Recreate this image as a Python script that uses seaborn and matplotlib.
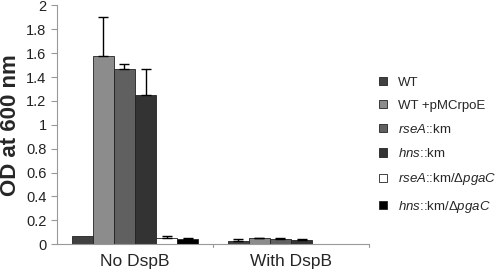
import numpy as np
import pandas as pd
import seaborn as sns
import matplotlib.pyplot as plt
from matplotlib.patches import Patch

conditions = ["No DspB", "With DspB"]
strains = ["WT", "WT +pMCrpoE", "rseA::km", "hns::km", "rseA::km/pgaC", "hns::km/pgaC"]
strain_labels = ["WT", "WT +pMCrpoE", r"$\mathit{rseA}$::km", r"$\mathit{hns}$::km",
                 r"$\mathit{rseA}$::km/Δ$\mathit{pgaC}$", r"$\mathit{hns}$::km/Δ$\mathit{pgaC}$"]
od_no = [0.07, 1.58, 1.47, 1.25, 0.05, 0.04]
err_no = [0.0, 0.32, 0.04, 0.22, 0.015, 0.01]
od_with = [0.03, 0.05, 0.04, 0.035, 0.0, 0.0]
err_with = [0.015, 0.005, 0.01, 0.005, 0.0, 0.0]
colors = ["#404040", "#8c8c8c", "#606060", "#333333", "#ffffff", "#000000"]

sns.set_style("white")
plt.rcParams['font.family'] = ['Liberation Sans', 'DejaVu Sans']
plt.rcParams['mathtext.fontset'] = 'custom'
plt.rcParams['mathtext.rm'] = 'Liberation Sans'
plt.rcParams['mathtext.it'] = 'Liberation Sans:italic'

df = pd.DataFrame({
    'cond': [conditions[0]] * 6 + [conditions[1]] * 6,
    'strain': strains * 2,
    'od': od_no + od_with,
    'err': err_no + err_with,
})

fig = plt.figure(figsize=(5, 2.74), dpi=100)
ax = fig.add_axes([0.114, 0.109, 0.624, 0.871])
sns.barplot(data=df, x='cond', y='od', hue='strain', hue_order=strains, order=conditions,
            palette=colors, width=0.81, errorbar=None, edgecolor='#222222', linewidth=0.6,
            saturation=1, ax=ax, legend=False)

# error bars (upper only), matched to bar centres
for i, s in enumerate(strains):
    for j, c in enumerate(conditions):
        row = df[(df.strain == s) & (df.cond == c)].iloc[0]
        if row.err <= 0:
            continue
        p = ax.containers[i].patches[j]
        xc = p.get_x() + p.get_width() / 2
        ax.errorbar(xc, row.od, yerr=[[0], [row.err]], fmt='none', ecolor='black',
                    elinewidth=1, capsize=3.5, capthick=1)

ax.set_ylim(0, 2)
ax.set_xlim(-0.5, 1.5)
ax.set_yticks(np.arange(0, 2.01, 0.2))
ax.set_yticklabels(["0", "0.2", "0.4", "0.6", "0.8", "1", "1.2", "1.4", "1.6", "1.8", "2"])
ax.set_xticks([0, 1])
ax.set_xticklabels(conditions, fontsize=12.5)
ax.tick_params(axis='x', length=0, pad=7)
ax.tick_params(axis='y', length=4, width=0.8, color='#999999', labelsize=10.5, colors='#222222', left=True)
for x in [0.5, 1.5]:
    ax.plot([x, x], [0, -0.025], color='#999999', lw=0.8, clip_on=False)
ax.set_xlabel("")
ax.set_ylabel("OD at 600 nm", fontsize=16, fontweight='bold', labelpad=4)
ax.spines['top'].set_visible(False)
ax.spines['right'].set_visible(False)
ax.spines['left'].set_color('#999999')
ax.spines['bottom'].set_color('#999999')

handles = [Patch(facecolor=c, edgecolor='#222222', linewidth=0.6) for c in colors]
fig.legend(handles, strain_labels, loc='upper left', bbox_to_anchor=(0.748, 0.74),
           frameon=False, fontsize=9.5, handlelength=0.6, handleheight=0.6,
           handletextpad=0.8, labelspacing=0.85, borderaxespad=0)

fig.savefig("out.png", dpi=100)
